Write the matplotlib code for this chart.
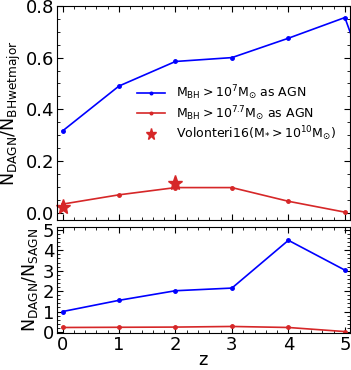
import matplotlib.pyplot as plt
import matplotlib.ticker as ticker

# redshifts
z = [0, 1, 2, 3, 4, 5, 6]
z_b = [0, 1, 2, 3, 4, 5]

# fraction of dual AGN among wet major merger BHs
frac_m7 = [0.316, 0.49, 0.585, 0.60, 0.675, 0.755, 0.15]
frac_m77 = [0.033, 0.069, 0.097, 0.097, 0.044, 0.002]
# Volonteri16 points
z_vol = [0, 2]
frac_vol = [0.02, 0.115]

# dual / single AGN ratio
ratio_m7 = [1.0, 1.55, 2.02, 2.15, 4.49, 3.03]
ratio_m77 = [0.22, 0.23, 0.24, 0.27, 0.22, 0.02]

blue = 'b'
red = '#d62728'

plt.rcParams['font.size'] = 13
fig = plt.figure(figsize=(3.51, 3.70), dpi=100)
gs = fig.add_gridspec(2, 1, height_ratios=[2.02, 1], hspace=0.04,
                      left=0.162, right=0.997, top=0.984, bottom=0.1)
ax1 = fig.add_subplot(gs[0])
ax2 = fig.add_subplot(gs[1], sharex=ax1)

ax1.plot(z, frac_m7, color=blue, marker='o', ms=2.5, lw=1.2,
         label=r'$\rm M_{BH}>10^7M_{\odot}$ as AGN')
ax1.plot(z_b, frac_m77, color=red, marker='o', ms=2.5, lw=1.2,
         label=r'$\rm M_{BH}>10^{7.7}M_{\odot}$ as AGN')
ax1.plot(z_vol, frac_vol, color=red, marker='*', ms=11, ls='none',
         clip_on=False, label=r'Volonteri16($\rm M_{*}>10^{10}M_{\odot}$)')
ax1.set_ylim(-0.03, 0.8)
ax1.set_ylabel(r'$\rm N_{DAGN}/N_{BHwetmajor}$', fontsize=12.5, labelpad=2)
ax1.legend(frameon=False, fontsize=9, loc='center left',
           bbox_to_anchor=(0.236, 0.5), handlelength=2.24, handletextpad=0.88,
           labelspacing=0.15, numpoints=1, markerscale=0.75)
ax1.yaxis.set_major_locator(ticker.MultipleLocator(0.2))
plt.setp(ax1.get_xticklabels(), visible=False)

ax2.plot(z_b, ratio_m7, color=blue, marker='o', ms=2.5, lw=1.2)
ax2.plot(z_b, ratio_m77, color=red, marker='o', ms=2.5, lw=1.2)
ax2.set_ylim(-0.05, 5.15)
ax2.set_xlim(-0.1, 5.09)
ax2.yaxis.set_major_locator(ticker.MultipleLocator(1))
ax2.xaxis.set_major_locator(ticker.MultipleLocator(1))
ax2.set_ylabel(r'$\rm N_{DAGN}/N_{SAGN}$', fontsize=12.5, labelpad=2)
ax2.set_xlabel('z', labelpad=-2)

for ax in (ax1, ax2):
    ax.xaxis.set_minor_locator(ticker.MultipleLocator(0.2))
    ax.yaxis.set_minor_locator(ticker.AutoMinorLocator())
    ax.tick_params(which='both', direction='in', top=True, right=True)
    ax.tick_params(which='major', length=4)
    ax.tick_params(which='minor', length=2)
    ax.tick_params(axis='both', pad=2)

fig.savefig('out.png', dpi=100)
